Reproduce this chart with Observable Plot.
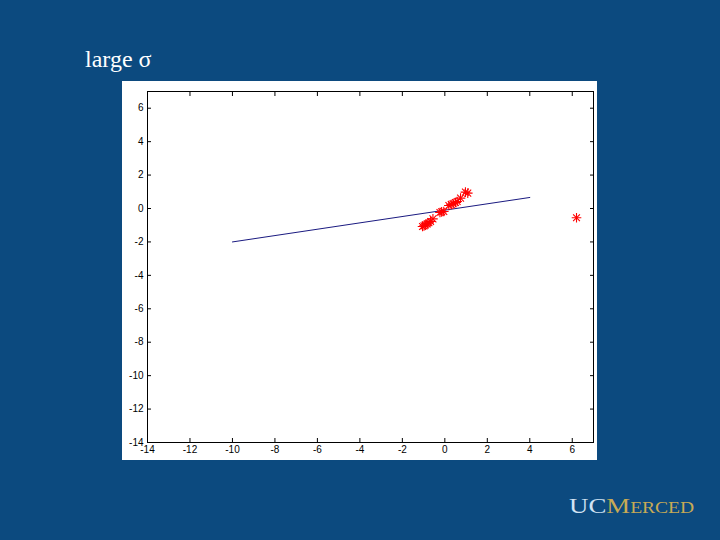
<!DOCTYPE html>
<html>
<head>
<meta charset="utf-8">
<script src="https://cdn.jsdelivr.net/npm/d3@7"></script>
<script src="https://cdn.jsdelivr.net/npm/@observablehq/plot@0.6"></script>
<style>
  html, body { margin: 0; padding: 0; }
  body { width: 720px; height: 540px; background: #0c4a7f; position: relative; overflow: hidden; }
  #title { position: absolute; left: 85px; top: 46px; font-family: "Liberation Serif", "DejaVu Serif", serif; font-size: 24px; color: #ffffff; white-space: nowrap; }
  #chart { position: absolute; left: 122px; top: 81px; }
  #logo { position: absolute; left: 569px; top: 493px; font-family: "Liberation Serif", "DejaVu Serif", serif; white-space: nowrap; transform: scaleX(1.22); transform-origin: left top; }
  #logo .uc { color: #d2e3f3; font-size: 22px; }
  #logo .m { color: #c8aa55; font-size: 22px; }
  #logo .rest { color: #c8aa55; font-size: 16px; }
</style>
</head>
<body>
<div id="title">large σ</div>
<div id="chart"></div>
<div id="logo"><span class="uc">UC</span><span class="m">M</span><span class="rest">ERCED</span></div>
<script>
// Tick values
const xTicks = [-14, -12, -10, -8, -6, -4, -2, 0, 2, 4, 6];
const yTicks = [-14, -12, -10, -8, -6, -4, -2, 0, 2, 4, 6];

// Fitted line endpoints
const lineX = [-10, 4];
const lineY = [-2.0, 0.66];

// Data points (red asterisks)
const ptX = [-1.05, -0.98, -0.92, -0.83, -0.75, -0.67, -0.56, -0.23, -0.15, -0.05, 0.19, 0.30, 0.39, 0.50, 0.58, 0.74, 0.97, 1.08, 6.2];
const ptY = [-1.08, -1.04, -0.98, -0.92, -0.85, -0.78, -0.62, -0.24, -0.20, -0.18, 0.18, 0.24, 0.28, 0.36, 0.42, 0.62, 0.98, 0.92, -0.55];

const lineData = lineX.map((x, i) => ({x, y: lineY[i]}));
const pts = ptX.map((x, i) => ({x, y: ptY[i]}));

const chart = Plot.plot({
  width: 475,
  height: 379,
  marginLeft: 25,
  marginTop: 10,
  marginRight: 4,
  marginBottom: 18,
  style: { background: "#ffffff", fontFamily: "Liberation Sans, Arial, sans-serif", fontSize: "10px", color: "#000" },
  x: { domain: [-14, 7] },
  y: { domain: [-14, 7] },
  marks: [
    Plot.axisX({ anchor: "bottom", ticks: xTicks, tickSize: -4, tickPadding: 7, label: null, tickFormat: d => d }),
    Plot.axisX({ anchor: "top", ticks: xTicks, tickSize: -4, label: null, tickFormat: () => "" }),
    Plot.axisY({ anchor: "left", ticks: yTicks, tickSize: -4, tickPadding: 8, label: null, tickFormat: d => d }),
    Plot.axisY({ anchor: "right", ticks: yTicks, tickSize: -4, label: null, tickFormat: () => "" }),
    Plot.line(lineData, { x: "x", y: "y", stroke: "#1a1a80", strokeWidth: 1 }),
    Plot.dot(pts, { x: "x", y: "y", symbol: "plus", r: 3.2, stroke: "#ff0000", strokeWidth: 1.1 }),
    Plot.dot(pts, { x: "x", y: "y", symbol: "times", r: 3.2, stroke: "#ff0000", strokeWidth: 1.1 }),
    Plot.frame({ stroke: "#000", strokeWidth: 1 })
  ]
});
document.getElementById("chart").appendChild(chart);
</script>
</body>
</html>
